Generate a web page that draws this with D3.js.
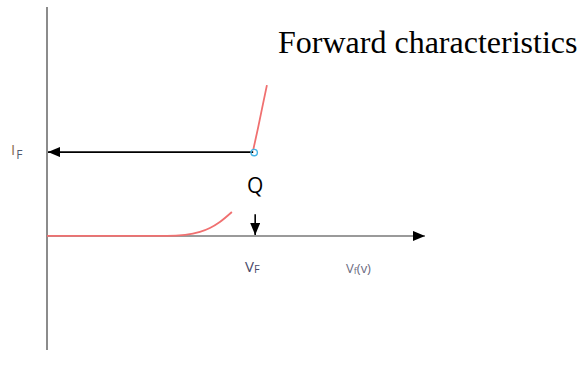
<!DOCTYPE html>
<html>
<head>
<meta charset="utf-8">
<script src="https://cdn.jsdelivr.net/npm/d3@7"></script>
<style>
  body { margin: 0; background: #fff; }
</style>
</head>
<body>
<div class="container"></div>
<script>
const width = 581, height = 379;

// forward curve, knee part (volts, mA)
const kneeV = [0, 0.349, 0.402, 0.445, 0.474, 0.503, 0.538];
const kneeI = [0, 0, 0.12, 0.48, 0.95, 1.67, 2.86];
// forward curve, steep part above Q
const steepV = [0.600, 0.614, 0.626, 0.640];
const steepI = [10.24, 12.86, 15.24, 17.98];
// operating point Q
const qV = 0.6, qI = 10;

const x = d3.scaleLinear().domain([0, 1.1]).range([47, 425]);
const y = d3.scaleLinear().domain([-13.6, 27.3]).range([350, 7]);

const svg = d3
  .select(".container")
  .append("svg")
  .attr("width", width)
  .attr("height", height);

const defs = svg.append("defs");
defs.append("marker")
  .attr("id", "head")
  .attr("viewBox", "0 0 12 10")
  .attr("refX", 12)
  .attr("refY", 5)
  .attr("markerWidth", 12)
  .attr("markerHeight", 10)
  .attr("markerUnits", "userSpaceOnUse")
  .attr("orient", "auto")
  .append("path")
  .attr("d", "M0,0 L12,5 L0,10 Z")
  .attr("fill", "#000");

// vertical axis
svg.append("line")
  .attr("x1", x(0)).attr("x2", x(0))
  .attr("y1", y(27.3)).attr("y2", y(-13.6))
  .attr("stroke", "#8c8c8c")
  .attr("stroke-width", 2);

// horizontal axis
svg.append("line")
  .attr("x1", x(0)).attr("x2", x(1.1))
  .attr("y1", y(0)).attr("y2", y(0))
  .attr("stroke", "#9a9a9a")
  .attr("stroke-width", 2)
  .attr("marker-end", "url(#head)");

// IF arrow from Q to the current axis
svg.append("line")
  .attr("x1", x(qV)).attr("x2", x(0) + 1)
  .attr("y1", y(qI)).attr("y2", y(qI))
  .attr("stroke", "#000")
  .attr("stroke-width", 1.6)
  .attr("marker-end", "url(#head)");

// down arrow to VF
svg.append("line")
  .attr("x1", x(qV) + 2).attr("x2", x(qV) + 2)
  .attr("y1", y(2.6)).attr("y2", y(0) - 1)
  .attr("stroke", "#000")
  .attr("stroke-width", 1.6)
  .attr("marker-end", "url(#head)");

const line = d3.line()
  .x((d) => x(d[0]))
  .y((d) => y(d[1]))
  .curve(d3.curveMonotoneX);

svg.append("path")
  .datum(kneeV.map((v, i) => [v, kneeI[i]]))
  .attr("d", line)
  .attr("fill", "none")
  .attr("stroke", "#f07070")
  .attr("stroke-width", 1.8);

svg.append("path")
  .datum(steepV.map((v, i) => [v, steepI[i]]))
  .attr("d", line)
  .attr("fill", "none")
  .attr("stroke", "#f07070")
  .attr("stroke-width", 1.8);

// Q point marker
svg.append("circle")
  .attr("cx", x(qV) + 1)
  .attr("cy", y(qI) + 0.5)
  .attr("r", 3.2)
  .attr("fill", "none")
  .attr("stroke", "#45b4e6")
  .attr("stroke-width", 1.4);

// labels
const lab = svg.append("text")
  .attr("x", 11).attr("y", 155)
  .style("font-family", "Open Sans, sans-serif")
  .style("font-size", "15px")
  .style("fill", "#8a7050");
lab.append("tspan").text("I");
lab.append("tspan").attr("dx", 1).attr("dy", 4).style("font-size", "12px").style("fill", "#505a70").text("F");

svg.append("text")
  .attr("x", 247).attr("y", 193)
  .style("font-family", "Open Sans, sans-serif")
  .style("font-size", "21px")
  .style("fill", "#000")
  .text("Q");

const vf = svg.append("text")
  .attr("x", 245).attr("y", 272)
  .style("font-family", "Open Sans, sans-serif")
  .style("font-size", "15px")
  .style("fill", "#4a4a6a");
vf.append("tspan").text("V");
vf.append("tspan").attr("dy", 1).style("font-size", "11px").text("F");

const vfv = svg.append("text")
  .attr("x", 346).attr("y", 273)
  .style("font-family", "Open Sans, sans-serif")
  .style("font-size", "13px")
  .style("fill", "#6a6a80");
vfv.append("tspan").text("V");
vfv.append("tspan").attr("dy", 1).style("font-size", "9px").text("f");
vfv.append("tspan").attr("dy", -1).text("(v)");

svg.append("text")
  .attr("x", 278).attr("y", 53)
  .style("font-family", "Liberation Serif, serif")
  .style("font-size", "32px")
  .style("fill", "#000")
  .text("Forward characteristics");
</script>
</body>
</html>
